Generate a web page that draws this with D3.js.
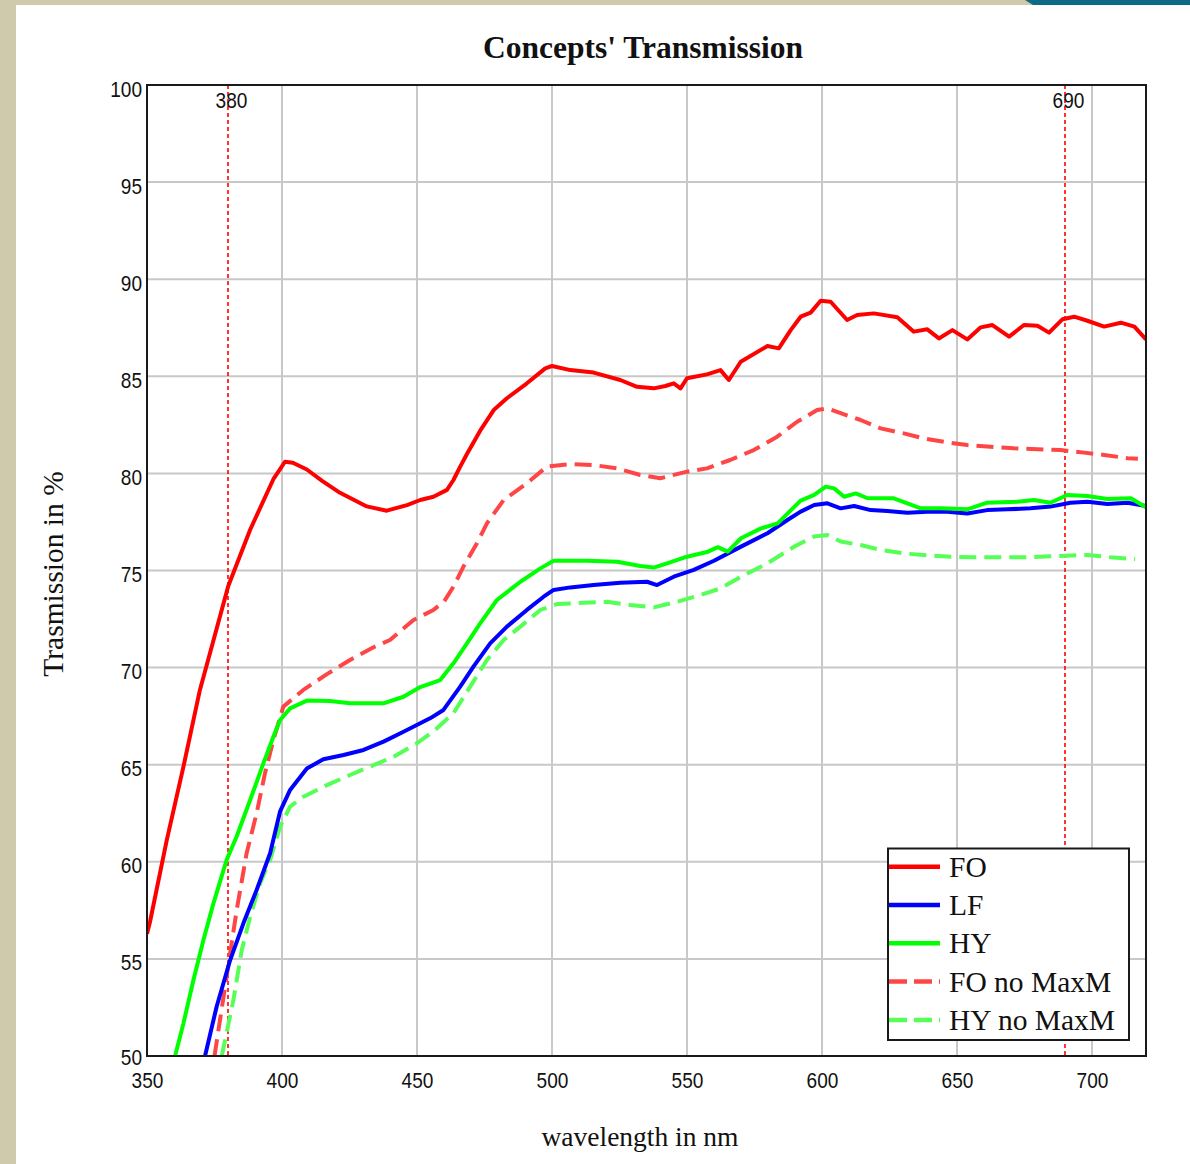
<!DOCTYPE html>
<html>
<head>
<meta charset="utf-8">
<script src="https://cdn.jsdelivr.net/npm/d3@7"></script>
<style>
  body { margin: 0; background: #ffffff; }
  svg { display: block; }
</style>
</head>
<body>
<svg id="chart" width="1190" height="1164"></svg>
<script>
// ---- data: transmission spectra (wavelength in nm, transmission in %) ----
const xTickValues = [350, 400, 450, 500, 550, 600, 650, 700];
const yTickValues = [50, 55, 60, 65, 70, 75, 80, 85, 90, 95, 100];
const markerNm = [380, 690];
const seriesNames = ["FO", "LF", "HY", "FO no MaxM", "HY no MaxM"];

const foNm = [350, 351.1, 357.3, 363.5, 369.6, 374.6, 380.1, 388.2, 396.8, 401.1, 404, 409.2, 415, 421.5, 431.4, 438.8, 446.3, 451.2, 456.1, 461.1, 463.5, 466, 468.5, 473.4, 478.4, 483.3, 490.7, 497.5, 500, 506.8, 515.4, 525.3, 531.5, 537.7, 542, 545.1, 547.6, 550, 557.4, 562.4, 565.5, 569.9, 579.8, 584, 588.4, 592.1, 595.8, 599.5, 603.2, 609.3, 613, 619.2, 627.9, 634, 639, 643.3, 648.3, 653.8, 658.8, 663.1, 669.3, 674.8, 679.8, 684.1, 689.1, 693.4, 698.3, 704.5, 710.7, 715.7, 720];
const foPct = [56.3, 56.9, 61.1, 64.9, 68.85, 71.4, 74.2, 77.1, 79.7, 80.6, 80.55, 80.2, 79.6, 79.0, 78.3, 78.08, 78.37, 78.63, 78.8, 79.15, 79.66, 80.35, 81.0, 82.2, 83.26, 83.87, 84.64, 85.41, 85.53, 85.32, 85.19, 84.81, 84.46, 84.38, 84.5, 84.64, 84.38, 84.9, 85.1, 85.32, 84.81, 85.75, 86.56, 86.44, 87.38, 88.07, 88.28, 88.89, 88.84, 87.9, 88.16, 88.24, 88.04, 87.3, 87.42, 86.95, 87.38, 86.9, 87.52, 87.64, 87.04, 87.64, 87.6, 87.25, 87.94, 88.07, 87.86, 87.56, 87.76, 87.56, 86.9];

const lfNm = [371.5, 375.8, 380.8, 385.7, 390.6, 395.6, 399.3, 403, 409.2, 415.3, 422.8, 430.2, 437.6, 445, 451.2, 455, 459.8, 466, 470.9, 477.1, 483.3, 490.7, 496.9, 500.6, 506.8, 515.4, 525.3, 535.2, 538.9, 545.1, 552.5, 560, 570, 579.8, 587.2, 592.1, 597.1, 602, 606.9, 611.9, 618, 624.2, 631.6, 639, 646.4, 653.8, 661.2, 668.6, 677.2, 684.6, 692, 698.3, 705.7, 713.2, 720];
const lfPct = [50, 52.55, 54.94, 56.83, 58.55, 60.44, 62.6, 63.7, 64.8, 65.28, 65.5, 65.76, 66.19, 66.7, 67.13, 67.4, 67.82, 69.02, 70.05, 71.25, 72.11, 72.97, 73.65, 74.0, 74.13, 74.25, 74.37, 74.42, 74.25, 74.68, 75.03, 75.5, 76.23, 76.92, 77.6, 78.03, 78.37, 78.46, 78.2, 78.32, 78.11, 78.06, 77.97, 78.03, 78.03, 77.94, 78.11, 78.15, 78.2, 78.29, 78.49, 78.54, 78.42, 78.49, 78.32];

const hyNm = [360.4, 363.5, 367.2, 370.9, 374.6, 379.5, 383.2, 388.2, 393.1, 396.8, 399.3, 403, 409.2, 417.8, 425.2, 437.6, 445, 451.2, 458.6, 463.5, 468.5, 473.4, 479.6, 488.3, 495.7, 500.6, 513, 524.1, 532.7, 537.7, 542.6, 550, 557.4, 561.4, 565.1, 570, 577.4, 583.6, 588.6, 592.1, 597.1, 601.4, 604.5, 608.2, 612.5, 616.9, 626.6, 631.6, 636.6, 644, 653.8, 661.2, 672.4, 678.5, 684.6, 690.8, 698.3, 705.7, 714.4, 720];
const hyPct = [50, 51.68, 53.91, 55.97, 57.86, 60.1, 61.3, 63.18, 65.07, 66.44, 67.3, 67.9, 68.3, 68.28, 68.16, 68.16, 68.5, 69.0, 69.36, 70.22, 71.25, 72.28, 73.48, 74.42, 75.11, 75.5, 75.5, 75.45, 75.23, 75.15, 75.37, 75.71, 75.95, 76.2, 75.97, 76.66, 77.17, 77.43, 78.12, 78.6, 78.89, 79.32, 79.23, 78.8, 78.97, 78.72, 78.72, 78.46, 78.2, 78.2, 78.15, 78.49, 78.54, 78.63, 78.49, 78.89, 78.84, 78.68, 78.72, 78.25];

const foNoMaxMNm = [375, 379.5, 383.2, 386.9, 390.6, 393.7, 396.8, 400.5, 407.9, 416.5, 425.2, 433.9, 440, 448.7, 456.1, 460, 463.5, 467.2, 472.2, 475.9, 482.1, 490.7, 498.1, 506.8, 515.4, 524.1, 532.7, 540.1, 550, 557.4, 566, 574.7, 583.4, 590.8, 598.2, 601.9, 606.9, 614.3, 621.7, 630.3, 637.8, 646.4, 653.8, 662.4, 671.1, 679.8, 688.4, 697.1, 704.5, 713.2, 717];
const foNoMaxMPct = [50, 54.1, 57.5, 60.44, 62.5, 64.56, 66.27, 67.99, 68.85, 69.65, 70.39, 71.05, 71.42, 72.45, 72.97, 73.4, 74.17, 75.2, 76.4, 77.43, 78.63, 79.49, 80.35, 80.48, 80.43, 80.26, 79.92, 79.75, 80.09, 80.26, 80.69, 81.2, 81.89, 82.66, 83.26, 83.35, 83.1, 82.75, 82.32, 82.06, 81.8, 81.6, 81.46, 81.37, 81.29, 81.24, 81.2, 81.07, 80.95, 80.78, 80.75];

const hyNoMaxMNm = [377.7, 380.2, 382, 385.1, 388.2, 391.9, 395.6, 399.3, 403, 407.9, 416.6, 425.2, 432.6, 441.3, 449.9, 456, 463.5, 469.7, 475.9, 482.1, 488.3, 495.7, 501.9, 511.7, 520.4, 529, 537.7, 546.4, 555, 562.4, 570, 579.8, 589.7, 597.1, 602, 606.9, 614.3, 621.7, 630.3, 639, 647.6, 656.3, 666.2, 676, 688.4, 698.3, 707, 716];
const hyNoMaxMPct = [50, 51.68, 52.88, 55.46, 57.17, 58.89, 60.1, 61.81, 62.84, 63.35, 63.95, 64.47, 64.9, 65.41, 66.1, 66.7, 67.65, 69.02, 70.39, 71.42, 72.11, 72.97, 73.27, 73.34, 73.39, 73.22, 73.1, 73.39, 73.74, 74.08, 74.68, 75.37, 76.23, 76.75, 76.83, 76.49, 76.31, 76.06, 75.88, 75.78, 75.71, 75.68, 75.68, 75.68, 75.75, 75.8, 75.68, 75.59];

// ---- drawing ----
const svg = d3.select("#chart");
const W = 1190, H = 1164;
const plot = { left: 147, right: 1146, top: 85, bottom: 1056 };

const x = d3.scaleLinear().domain([350, 720]).range([plot.left, plot.right]);
const y = d3.scaleLinear().domain([50, 100]).range([plot.bottom, plot.top]);

// page frame
svg.append("rect").attr("width", W).attr("height", H).attr("fill", "#ffffff");
svg.append("rect").attr("x", 0).attr("y", 0).attr("width", W).attr("height", 5).attr("fill", "#cfcaab");
svg.append("rect").attr("x", 0).attr("y", 0).attr("width", 16).attr("height", H).attr("fill", "#cfcaab");
svg.append("polygon").attr("points", "1025,0 1190,0 1190,5 1033,5").attr("fill", "#0e6a85");

const tickFont = "'Liberation Sans', Arial, sans-serif";
const serif = "'Liberation Serif', 'DejaVu Serif', serif";
const digitWidth = 10.6;

// narrow numeric labels: compress glyphs to a fixed width per character
function narrowNumbers(sel) {
  sel.style("font-family", tickFont).style("font-size", "22.5px").attr("fill", "#111")
    .attr("lengthAdjust", "spacingAndGlyphs")
    .attr("textLength", function () { return digitWidth * this.textContent.length; });
}

// grid
const grid = svg.append("g").attr("stroke", "#c8c8c8").attr("stroke-width", 2);
grid.selectAll("line.v").data(xTickValues.filter(d => d > 350)).join("line")
  .attr("x1", d => x(d)).attr("x2", d => x(d))
  .attr("y1", plot.top).attr("y2", plot.bottom);
grid.selectAll("line.h").data(yTickValues.filter(d => d > 50 && d < 100)).join("line")
  .attr("x1", plot.left).attr("x2", plot.right)
  .attr("y1", d => y(d)).attr("y2", d => y(d));

// axes (labels only, the frame is drawn separately)
const xAxis = d3.axisBottom(x).tickValues(xTickValues).tickSize(0).tickPadding(0).tickFormat(d3.format("d"));
const gx = svg.append("g").attr("transform", `translate(0,${plot.bottom})`).call(xAxis);
gx.select(".domain").remove();
gx.selectAll("text").attr("dy", null).attr("y", 32).call(narrowNumbers);

const yAxis = d3.axisLeft(y).tickValues(yTickValues).tickSize(0).tickPadding(0).tickFormat(d3.format("d"));
const gy = svg.append("g").attr("transform", `translate(${plot.left - 5},0)`).call(yAxis);
gy.select(".domain").remove();
gy.selectAll("text").attr("dy", null).attr("x", 0).attr("y", 11).call(narrowNumbers);
gy.selectAll("text").filter(d => d === 50).attr("y", 8);

// vertical markers
const markers = svg.append("g");
markers.selectAll("line").data(markerNm).join("line")
  .attr("x1", d => x(d)).attr("x2", d => x(d))
  .attr("y1", plot.top).attr("y2", plot.bottom)
  .attr("stroke", "#ff0000").attr("stroke-width", 1.6).attr("stroke-dasharray", "4,3");
markers.selectAll("text").data(markerNm).join("text")
  .attr("x", d => x(d) + 3.5).attr("y", 107.5)
  .attr("text-anchor", "middle")
  .text(d => d)
  .call(narrowNumbers);

// series
const seriesData = [
  { nm: foNm, pct: foPct },
  { nm: lfNm, pct: lfPct },
  { nm: hyNm, pct: hyPct },
  { nm: foNoMaxMNm, pct: foNoMaxMPct },
  { nm: hyNoMaxMNm, pct: hyNoMaxMPct }
];
const styles = [
  { color: "#ff0000", dash: null },
  { color: "#0000ff", dash: null },
  { color: "#00ff00", dash: null },
  { color: "#ff4646", dash: "17,8" },
  { color: "#55ff55", dash: "17,8" }
];

svg.append("clipPath").attr("id", "plotClip").append("rect")
  .attr("x", plot.left).attr("y", plot.top)
  .attr("width", plot.right - plot.left).attr("height", plot.bottom - plot.top);

const line = d3.line().x(d => x(d[0])).y(d => y(d[1]));
const lines = svg.append("g").attr("clip-path", "url(#plotClip)");
[4, 3, 1, 0, 2].forEach(i => {
  const s = seriesData[i];
  const pts = s.nm.map((n, k) => [n, s.pct[k]]);
  lines.append("path").datum(pts)
    .attr("d", line)
    .attr("fill", "none")
    .attr("stroke", styles[i].color)
    .attr("stroke-width", 4)
    .attr("stroke-linejoin", "round")
    .attr("stroke-dasharray", styles[i].dash);
});

// plot frame
svg.append("rect")
  .attr("x", plot.left).attr("y", plot.top)
  .attr("width", plot.right - plot.left).attr("height", plot.bottom - plot.top)
  .attr("fill", "none").attr("stroke", "#1a1a1a").attr("stroke-width", 2);

// title and axis titles
svg.append("text").attr("x", 643).attr("y", 58).attr("text-anchor", "middle")
  .style("font-family", serif).style("font-size", "31.5px").style("font-weight", "bold")
  .attr("fill", "#111").text("Concepts' Transmission");
svg.append("text").attr("x", 640).attr("y", 1146).attr("text-anchor", "middle")
  .style("font-family", serif).style("font-size", "27.5px")
  .attr("fill", "#111").text("wavelength in nm");
svg.append("text").attr("transform", "translate(63,574) rotate(-90)").attr("text-anchor", "middle")
  .style("font-family", serif).style("font-size", "29.5px")
  .attr("fill", "#111").text("Trasmission in %");

// legend
const lg = svg.append("g");
lg.append("rect").attr("x", 888).attr("y", 848.5).attr("width", 241).attr("height", 191.5)
  .attr("fill", "#ffffff").attr("stroke", "#1a1a1a").attr("stroke-width", 2);
const rowY = i => 866.7 + i * 38.3;
seriesNames.forEach((name, i) => {
  lg.append("line").attr("x1", 889).attr("x2", 940).attr("y1", rowY(i)).attr("y2", rowY(i))
    .attr("stroke", styles[i].color).attr("stroke-width", 4.5)
    .attr("stroke-dasharray", styles[i].dash ? "18,7" : null);
  lg.append("text").attr("x", 949).attr("y", rowY(i) + 10)
    .style("font-family", serif).style("font-size", "29.5px").attr("fill", "#111")
    .text(name);
});
</script>
</body>
</html>
